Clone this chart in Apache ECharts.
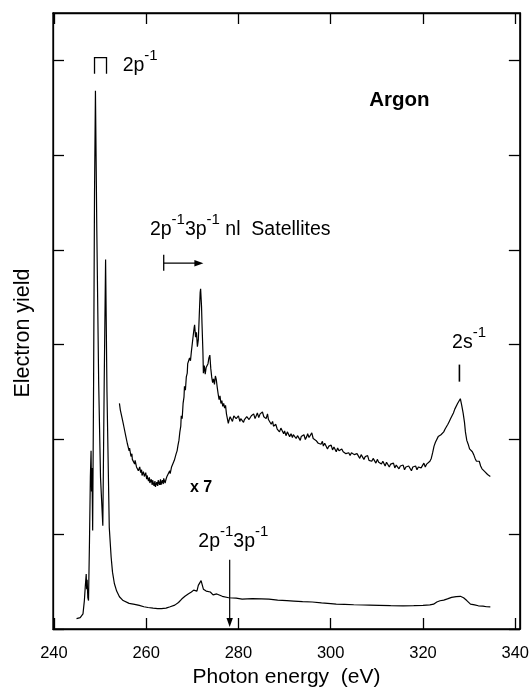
<!DOCTYPE html>
<html>
<head>
<meta charset="utf-8">
<script src="https://cdn.jsdelivr.net/npm/echarts@6/dist/echarts.min.js"></script>
<style>
html,body{margin:0;padding:0;background:#fff;}
#chart{width:532px;height:693px;}
</style>
</head>
<body>
<div id="chart"></div>
<script>
// ---------- data ----------
var xTickValues = [240, 260, 280, 300, 320, 340];
var yTickValues = [0, 1, 2, 3, 4, 5, 6];
var xAxisName = 'Photon energy  (eV)';
var yAxisName = 'Electron yield';

// main spectrum [photon energy eV, yield in tick units]
var lowerCurve = [
[244.9,0.11],[245.3,0.11],[245.7,0.12],[246.0,0.13],[246.3,0.16],[246.6,0.30],[246.8,0.45],[247.0,0.58],
[247.1,0.42],[247.2,0.52],[247.35,0.33],[247.5,0.30],[247.7,0.90],[247.9,1.60],[248.05,1.88],[248.15,1.45],
[248.25,1.70],[248.4,1.04],[248.6,2.60],[248.8,4.60],[249.0,5.68],[249.3,4.20],[249.7,2.60],[250.1,1.60],
[250.6,1.09],[250.9,2.60],[251.2,3.90],[251.5,2.50],[252.0,1.07],[252.4,0.76],[252.7,0.60],[253.1,0.48],
[253.6,0.40],[254.2,0.34],[255.0,0.30],[256.3,0.27],[257.5,0.26],[258.5,0.25],[259.5,0.235],[260.4,0.227],
[261.5,0.22],[262.5,0.215],[263.3,0.216],[264.3,0.22],[265.2,0.235],[266.2,0.252],[267.0,0.28],[267.7,0.316],
[268.4,0.345],[269.1,0.369],[269.8,0.39],[270.3,0.41],[270.6,0.42],[271.0,0.40],[271.3,0.46],[271.9,0.51],
[272.4,0.42],[273.0,0.40],[273.9,0.39],[274.5,0.36],[275.3,0.37],[276.5,0.345],[277.9,0.33],[279.5,0.325],
[280.8,0.316],[283.0,0.32],[285.0,0.318],[286.6,0.316],[288.5,0.305],[290.5,0.30],[292.0,0.295],[293.9,0.288],
[296.0,0.285],[298.0,0.275],[300.0,0.268],[301.2,0.262],[303.0,0.26],[305.0,0.256],[307.0,0.253],[308.4,0.252],
[310.5,0.25],[313.0,0.247],[315.7,0.245],[318.0,0.246],[320.0,0.25],[321.5,0.255],[322.3,0.262],[323.0,0.285],
[323.7,0.298],[324.5,0.305],[325.3,0.318],[326.2,0.334],[327.2,0.342],[328.1,0.345],[328.8,0.33],[329.5,0.30],
[330.3,0.262],[331.2,0.255],[332.0,0.245],[333.0,0.242],[333.8,0.235],[334.6,0.234]
];

// x7 magnified trace [photon energy eV, yield in tick units]
var upperCurve = [
[254.2,2.38],[254.4,2.31],[254.5,2.33],[254.8,2.22],[255.0,2.21],[255.1,2.15],[255.4,2.13],[255.6,2.03],
[255.7,2.05],[255.9,1.96],[256.1,1.97],[256.3,1.88],[256.4,1.91],[256.7,1.82],[256.9,1.85],[257.0,1.79],
[257.3,1.79],[257.5,1.74],[257.6,1.78],[257.9,1.71],[258.2,1.73],[258.3,1.67],[258.6,1.71],[258.8,1.65],
[259.0,1.68],[259.1,1.62],[259.4,1.66],[259.6,1.61],[259.9,1.65],[260.1,1.58],[260.2,1.62],[260.5,1.56],
[260.7,1.60],[260.8,1.54],[261.1,1.58],[261.3,1.52],[261.4,1.57],[261.7,1.51],[261.9,1.56],[262.0,1.50],
[262.3,1.55],[262.5,1.51],[262.6,1.57],[262.9,1.52],[263.1,1.58],[263.2,1.52],[263.5,1.57],[263.7,1.53],
[263.8,1.59],[264.1,1.54],[264.3,1.58],[264.5,1.61],[264.6,1.63],[264.9,1.60],[265.1,1.67],[265.2,1.64],
[265.5,1.71],[265.7,1.73],[265.8,1.70],[266.1,1.78],[266.3,1.78],[266.5,1.85],[266.7,1.88],[266.9,1.94],
[267.1,1.99],[267.3,2.08],[267.5,2.14],[267.6,2.25],[267.8,2.22],[268.0,2.38],[268.2,2.45],[268.3,2.56],
[268.5,2.52],[268.7,2.66],[268.9,2.70],[269.0,2.80],[269.2,2.78],[269.4,2.86],[269.6,2.83],[269.8,2.93],
[270.0,2.95],[270.2,3.10],[270.4,3.18],[270.5,3.21],[270.7,3.08],[270.9,3.13],[271.1,2.98],[271.3,3.05],
[271.5,3.30],[271.7,3.55],[271.8,3.59],[272.0,3.40],[272.1,3.22],[272.3,2.92],[272.4,2.70],[272.6,2.78],
[272.8,2.69],[273.0,2.76],[273.2,2.74],[273.4,2.80],[273.6,2.86],[273.8,2.89],[274.0,2.75],[274.2,2.66],
[274.4,2.60],[274.6,2.64],[274.8,2.58],[275.0,2.67],[275.2,2.63],[275.4,2.55],[275.6,2.48],[275.8,2.42],
[276.0,2.46],[276.2,2.38],[276.4,2.41],[276.6,2.35],[276.8,2.38],[277.0,2.33],[277.2,2.36],[277.4,2.27],
[277.6,2.22],[277.8,2.17],[278.0,2.21],[278.2,2.24],[278.5,2.23],[278.7,2.19],[279.0,2.25],[279.3,2.27],
[279.5,2.22],[279.7,2.21],[280.0,2.25],[280.3,2.19],[280.5,2.22],[280.8,2.24],[281.1,2.18],[281.3,2.21],
[281.5,2.20],[281.8,2.24],[282.0,2.26],[282.3,2.21],[282.6,2.20],[282.8,2.25],[283.1,2.23],[283.3,2.27],
[283.6,2.22],[283.9,2.24],[284.1,2.28],[284.4,2.23],[284.7,2.27],[284.9,2.25],[285.2,2.29],[285.5,2.24],
[285.7,2.26],[286.0,2.22],[286.3,2.27],[286.5,2.21],[286.8,2.20],[287.1,2.16],[287.4,2.19],[287.6,2.14],
[287.9,2.12],[288.1,2.16],[288.4,2.11],[288.7,2.13],[288.9,2.08],[289.2,2.12],[289.5,2.10],[289.8,2.06],
[290.0,2.09],[290.3,2.04],[290.6,2.08],[290.8,2.07],[291.1,2.03],[291.4,2.06],[291.7,2.02],[291.9,2.05],
[292.2,2.07],[292.5,2.01],[292.8,2.04],[293.1,2.02],[293.4,1.99],[293.6,2.03],[293.9,2.01],[294.2,2.05],
[294.5,2.00],[294.8,2.03],[295.0,2.06],[295.3,2.02],[295.6,2.04],[295.9,2.07],[296.2,2.01],[296.5,2.03],
[296.8,1.99],[297.0,2.01],[297.3,1.96],[297.6,1.98],[297.9,1.95],[298.2,1.98],[298.4,1.93],[298.7,1.96],
[299.0,1.94],[299.3,1.90],[299.6,1.93],[299.9,1.91],[300.1,1.94],[300.4,1.89],[300.7,1.92],[301.0,1.90],
[301.2,1.87],[301.5,1.91],[301.8,1.88],[302.1,1.86],[302.4,1.90],[302.7,1.87],[303.0,1.89],[303.3,1.85],
[303.6,1.87],[303.9,1.86],[304.2,1.83],[304.5,1.86],[304.8,1.88],[305.1,1.84],[305.4,1.82],[305.7,1.85],
[306.0,1.83],[306.3,1.80],[306.6,1.84],[306.9,1.82],[307.2,1.79],[307.5,1.82],[307.7,1.80],[308.0,1.83],
[308.3,1.78],[308.6,1.80],[308.9,1.77],[309.2,1.80],[309.5,1.78],[309.8,1.75],[310.1,1.79],[310.4,1.76],
[310.7,1.78],[311.0,1.74],[311.3,1.77],[311.5,1.75],[311.8,1.72],[312.1,1.76],[312.4,1.74],[312.7,1.71],
[313.0,1.74],[313.3,1.72],[313.6,1.75],[313.9,1.70],[314.2,1.73],[314.5,1.71],[314.8,1.69],[315.1,1.72],
[315.4,1.70],[315.7,1.73],[316.0,1.68],[316.3,1.71],[316.6,1.69],[316.9,1.72],[317.2,1.70],[317.5,1.67],
[317.8,1.71],[318.1,1.69],[318.4,1.72],[318.7,1.68],[319.0,1.71],[319.3,1.73],[319.6,1.70],[319.9,1.72],
[320.2,1.75],[320.5,1.71],[320.8,1.74],[321.1,1.73],[321.5,1.77],[321.8,1.80],[322.1,1.86],[322.4,1.93],
[322.7,1.97],[323.0,1.99],[323.3,2.03],[323.6,2.01],[323.9,2.05],[324.2,2.04],[324.5,2.08],[324.8,2.11],
[325.1,2.10],[325.4,2.16],[325.7,2.19],[326.0,2.22],[326.3,2.25],[326.6,2.28],[326.9,2.32],[327.2,2.33],
[327.5,2.38],[327.8,2.40],[328.1,2.43],[328.4,2.36],[328.7,2.28],[329.0,2.18],[329.2,2.08],[329.5,1.99],
[329.8,1.95],[330.1,1.90],[330.4,1.92],[330.7,1.87],[331.0,1.84],[331.3,1.80],[331.6,1.77],[331.9,1.75],
[332.2,1.77],[332.5,1.72],[332.8,1.69],[333.1,1.70],[333.4,1.66],[333.7,1.68],[334.0,1.63],[334.3,1.65],
[334.6,1.61]
];

// annotation anchors [energy, yield]
var bracket2p = [[248.8, 5.86], [248.8, 6.03], [251.4, 6.03], [251.4, 5.86]];
var satArrow = { x0: 263.8, x1: 272.4, y: 3.86, barLo: 3.78, barHi: 3.95 };
var mark2s = { x: 327.9, y0: 2.61, y1: 2.79 };
var arrow2p3p = { x: 278.1, y0: 0.73, y1: 0.02 };

// ---------- chart ----------
var FONT = '"Liberation Sans", Arial, Helvetica, sans-serif';
var chart = echarts.init(document.getElementById('chart'), null, { renderer: 'canvas' });
var lineCol = '#000';
var axisLineStyle = { color: lineCol, width: 1.3 };

function frameAxisX(pos, showLabel) {
  return {
    type: 'value', position: pos, min: 239.8, max: 341,
    axisLine: { show: true, onZero: false, lineStyle: axisLineStyle },
    axisTick: { show: true, inside: true, length: 11, customValues: xTickValues, lineStyle: { color: lineCol, width: 1.3 } },
    axisLabel: { show: showLabel, customValues: xTickValues, color: '#000', fontSize: 16.5, fontFamily: FONT, margin: 16 },
    splitLine: { show: false }
  };
}
function frameAxisY(pos) {
  return {
    type: 'value', position: pos, min: 0, max: 6.5,
    axisLine: { show: true, onZero: false, lineStyle: axisLineStyle },
    axisTick: { show: true, inside: true, length: 11, customValues: yTickValues, lineStyle: { color: lineCol, width: 1.3 } },
    axisLabel: { show: false },
    splitLine: { show: false }
  };
}

var xb = frameAxisX('bottom', true);
xb.name = xAxisName; xb.nameLocation = 'middle'; xb.nameGap = 38;
xb.nameTextStyle = { color: '#000', fontSize: 21, fontFamily: FONT };
var yl = frameAxisY('left');
yl.name = yAxisName; yl.nameLocation = 'middle'; yl.nameGap = 19; yl.nameRotate = 90;
yl.nameTextStyle = { color: '#000', fontSize: 21.5, fontFamily: FONT, padding: [0, 24, 0, 0] };

chart.setOption({
  animation: false,
  backgroundColor: '#fff',
  grid: { left: 53, right: 7, top: 13, bottom: 61, containLabel: false, show: true, borderColor: '#000', borderWidth: 1.3, backgroundColor: 'transparent' },
  xAxis: [xb, frameAxisX('top', false)],
  yAxis: [yl, frameAxisY('right')],
  series: [
    { type: 'line', xAxisIndex: 0, yAxisIndex: 0, data: lowerCurve, showSymbol: false, symbol: 'none',
      lineStyle: { color: lineCol, width: 1.2 }, silent: true },
    { type: 'line', xAxisIndex: 0, yAxisIndex: 0, data: upperCurve, showSymbol: false, symbol: 'none',
      lineStyle: { color: lineCol, width: 1.2 }, silent: true }
  ]
});

function P(x, y) { return chart.convertToPixel({ xAxisIndex: 0, yAxisIndex: 0 }, [x, y]); }

var richSup = function (fs) {
  return {
    b: { fontSize: fs, lineHeight: Math.round(fs * 1.2), verticalAlign: 'bottom', fontFamily: FONT, fill: '#000' },
    s: { fontSize: Math.round(fs * 0.76), lineHeight: Math.round(fs * 0.88), verticalAlign: 'bottom', padding: [0, 0, Math.round(fs * 0.64), 0], fontFamily: FONT, fill: '#000' }
  };
};

// baseline-anchored rich text helper
function richText(x, y, text, fs) {
  var p = P(x, y);
  return { type: 'text', x: p[0], y: p[1] + Math.round(fs * 0.26), silent: true,
    style: { text: text, rich: richSup(fs), align: 'left', verticalAlign: 'bottom', fontFamily: FONT, fontSize: fs, fill: '#000' } };
}

function arrowHead(tip, dir) {
  var L = 9, W = 3.2;
  var pts = dir === 'right'
    ? [[tip[0], tip[1]], [tip[0] - L, tip[1] - W], [tip[0] - L, tip[1] + W]]
    : [[tip[0], tip[1]], [tip[0] - W, tip[1] - L], [tip[0] + W, tip[1] - L]];
  return { type: 'polygon', silent: true, shape: { points: pts }, style: { fill: '#000' } };
}

var sa0 = P(satArrow.x0, satArrow.y), sa1 = P(satArrow.x1, satArrow.y);
var saLo = P(satArrow.x0, satArrow.barLo), saHi = P(satArrow.x0, satArrow.barHi);
var m2a = P(mark2s.x, mark2s.y0), m2b = P(mark2s.x, mark2s.y1);
var da0 = P(arrow2p3p.x, arrow2p3p.y0), da1 = P(arrow2p3p.x, arrow2p3p.y1);
var argonP = P(314.9, 5.58);
var x7P = P(269.5, 1.49);

chart.setOption({
  graphic: [
    { type: 'polyline', silent: true, shape: { points: bracket2p.map(function (d) { return P(d[0], d[1]); }) },
      style: { stroke: '#000', lineWidth: 1.3, fill: null } },
    richText(254.9, 5.89, '{b|2p}{s|-1}', 19.5),
    { type: 'text', x: argonP[0], y: argonP[1], silent: true,
      style: { text: 'Argon', align: 'center', verticalAlign: 'middle', fontFamily: FONT, fontWeight: 'bold', fontSize: 20.5, fill: '#000' } },
    richText(260.8, 4.16, '{b|2p}{s|-1}{b|3p}{s|-1}{b| nl  Satellites}', 19.5),
    { type: 'line', silent: true, shape: { x1: sa0[0], y1: sa0[1], x2: sa1[0] - 6, y2: sa1[1] }, style: { stroke: '#000', lineWidth: 1.3 } },
    { type: 'line', silent: true, shape: { x1: saLo[0], y1: saLo[1], x2: saHi[0], y2: saHi[1] }, style: { stroke: '#000', lineWidth: 1.3 } },
    arrowHead(sa1, 'right'),
    richText(326.3, 2.97, '{b|2s}{s|-1}', 19.5),
    { type: 'line', silent: true, shape: { x1: m2a[0], y1: m2a[1], x2: m2b[0], y2: m2b[1] }, style: { stroke: '#000', lineWidth: 1.6 } },
    { type: 'text', x: x7P[0], y: x7P[1], silent: true,
      style: { text: 'x 7', align: 'left', verticalAlign: 'middle', fontFamily: FONT, fontWeight: 'bold', fontSize: 16, fill: '#000' } },
    richText(271.3, 0.87, '{b|2p}{s|-1}{b|3p}{s|-1}', 19.5),
    { type: 'line', silent: true, shape: { x1: da0[0], y1: da0[1], x2: da1[0], y2: da1[1] - 6 }, style: { stroke: '#000', lineWidth: 1.2 } },
    arrowHead(da1, 'down')
  ]
});
</script>
</body>
</html>
